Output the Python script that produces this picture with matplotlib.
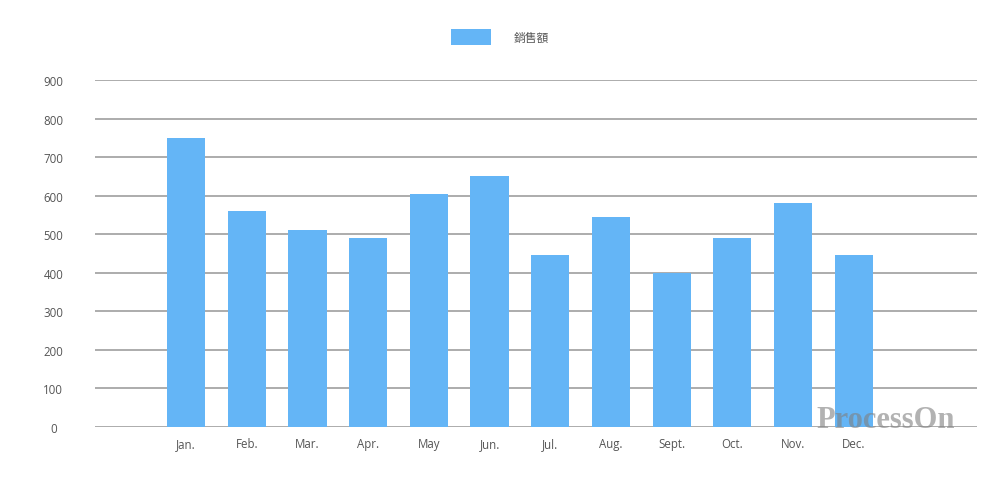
import matplotlib
matplotlib.use("Agg")
import matplotlib.pyplot as plt

plt.rcParams['font.family'] = ['Open Sans', 'Noto Sans CJK TC', 'DejaVu Sans']

# data
months = ['Jan.', 'Feb.', 'Mar.', 'Apr.', 'May', 'Jun.', 'Jul.', 'Aug.', 'Sept.', 'Oct.', 'Nov.', 'Dec.']
sales = [750, 560, 510, 490, 605, 650, 445, 545, 400, 490, 580, 445]
yticks = [0, 100, 200, 300, 400, 500, 600, 700, 800, 900]
series_name = '銷售額'

bar_color = '#64B5F6'
grid_color = '#9e9e9e'
text_color = '#555555'

fig = plt.figure(figsize=(10, 4.81), dpi=100)
ax = fig.add_axes([0.095, 1 - 428 / 481, 0.882, (428 - 81) / 481])

x = list(range(len(months)))
ax.bar(x, sales, width=0.63, color=bar_color, label=series_name, zorder=3)

ax.set_xlim(-1.5, 13.03)
ax.set_ylim(0, 900)
ax.set_yticks(yticks)
ax.set_xticks(x)
ax.set_xticklabels(months)
for s in ax.spines.values():
    s.set_visible(False)
ax.grid(axis='y', color=grid_color, linewidth=1.2, zorder=0)
ax.tick_params(axis='both', length=0, labelsize=8.3, labelcolor=text_color)
ax.tick_params(axis='y', pad=30)
ax.tick_params(axis='x', pad=7)
for lbl in ax.get_yticklabels():
    lbl.set_horizontalalignment('center')

fig.legend(loc='center', bbox_to_anchor=(0.5, 1 - 38 / 481), frameon=False,
           handlelength=3.4, handleheight=1.7, handletextpad=1.9,
           fontsize=8.5, labelcolor=text_color)

# watermark
fig.text(0.886, 1 - 420 / 481, 'ProcessOn', family='Liberation Serif', fontweight='bold',
         fontsize=22, color='#808080', alpha=0.6, ha='center', va='center')

fig.savefig('out.png', dpi=100, facecolor='white')
